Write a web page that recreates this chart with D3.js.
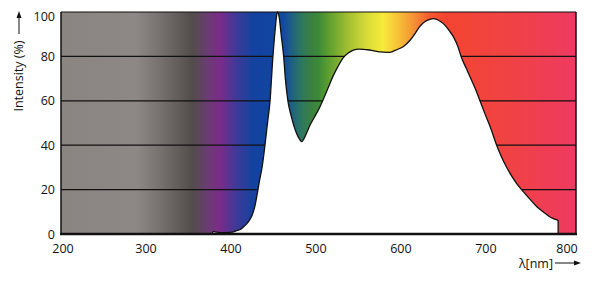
<!DOCTYPE html>
<html>
<head>
<meta charset="utf-8">
<script src="https://cdn.jsdelivr.net/npm/d3@7"></script>
<style>
body { margin: 0; background: #fff; }
text { font-family: "Open Sans", sans-serif; fill: #111; }
</style>
</head>
<body>
<div class="chart"></div>
<script>
// spectrum curve (LED), wavelength in nm and relative intensity in %
var wavelengths = [378, 379, 383, 387, 395, 402, 406, 411, 415, 419, 422, 425, 428, 431, 433, 437, 440, 443, 446, 449, 452, 454, 455, 457, 459, 462, 464, 467, 471, 477, 481, 483, 486, 489, 493, 498, 503, 509, 514, 520, 526, 532, 538, 544, 550, 556, 561, 567, 575, 585, 590, 595, 603, 611, 617, 622, 628, 634, 638, 642, 647, 652, 657, 662, 667, 671, 677, 683, 688, 693, 699, 705, 713, 718, 724, 730, 736, 744, 752, 760, 768, 775, 780, 785, 785];
var intensity = [0, 1.2, 0.8, 0.6, 0.6, 0.8, 1.4, 2.0, 3.3, 4.8, 6.4, 8.6, 12.3, 18.3, 22.8, 31, 40, 50, 60, 78, 92, 99, 100, 97, 90, 80, 70, 60, 53, 45.5, 42.5, 41.6, 43, 45.5, 49, 52.5, 56, 61, 65.5, 71, 75.5, 79.3, 81.5, 82.8, 83.3, 83.2, 83, 82.6, 82, 81.8, 82.2, 83, 84.5, 87.4, 90.5, 93.4, 95.6, 96.7, 97, 96.7, 95.6, 94, 91.5, 88.7, 84.5, 79.7, 74.5, 69.4, 65, 60, 54, 48.3, 39.6, 35, 30.3, 26.3, 22.8, 19.1, 15.6, 12.3, 9.8, 7.8, 6.8, 6, 0];

// background spectrum colour stops
var stopWavelengths = [200, 289, 316, 355, 372, 387, 407, 426, 449, 462, 481, 493, 503, 516, 540, 560, 579, 595, 611, 634, 649, 728, 806];
var stopColors = ["#8b8582", "#8d8885", "#77726f", "#524d4b", "#6a3c72", "#7b2b88", "#3d3a98", "#1442a0", "#1145a2", "#134aa0", "#2a7565", "#3a7f45", "#3c8a38", "#60a030", "#a8c232", "#d8dc38", "#f7ea3a", "#f8c438", "#f59d35", "#f55a30", "#f4452f", "#f04244", "#ee3a62"];

var yTicks = [0, 20, 40, 60, 80, 100];
var xTicks = [200, 300, 400, 500, 600, 700, 800];

(function() {
var W = 600, H = 282;
var pLeft = 61, pRight = 576, pTop = 12, pBottom = 234;

var x = d3.scaleLinear().domain([200, 806]).range([pLeft, pRight]);
var y = d3.scaleLinear().domain([0, 100]).range([pBottom, pTop]);

var svg = d3.select(".chart").append("svg").attr("width", W).attr("height", H);

var grad = svg.append("defs").append("linearGradient")
  .attr("id", "spec").attr("gradientUnits", "userSpaceOnUse")
  .attr("x1", x(200)).attr("x2", x(806)).attr("y1", 0).attr("y2", 0);
grad.selectAll("stop").data(stopWavelengths).enter().append("stop")
  .attr("offset", function(d) { return (d - 200) / 606; })
  .attr("stop-color", function(d, i) { return stopColors[i]; });

svg.append("rect")
  .attr("x", pLeft).attr("y", pTop)
  .attr("width", pRight - pLeft).attr("height", pBottom - pTop)
  .style("fill", "url(#spec)");

// grid lines
svg.selectAll("line.grid").data(yTicks.slice(1)).enter().append("line")
  .attr("class", "grid")
  .attr("x1", pLeft).attr("x2", pRight)
  .attr("y1", function(d) { return y(d); }).attr("y2", function(d) { return y(d); })
  .style("stroke", "#111").style("stroke-width", 1.2);

// frame left / right
svg.append("line").attr("x1", pLeft).attr("x2", pLeft).attr("y1", pTop).attr("y2", pBottom)
  .style("stroke", "#111").style("stroke-width", 1.5);
svg.append("line").attr("x1", pRight).attr("x2", pRight).attr("y1", pTop).attr("y2", pBottom)
  .style("stroke", "#111").style("stroke-width", 1.5);

var pts = wavelengths.map(function(d, i) { return [d, intensity[i]]; });

var area = d3.area()
  .x(function(d) { return x(d[0]); })
  .y0(pBottom).y1(function(d) { return y(d[1]); })
  .curve(d3.curveMonotoneX);
var line = d3.line()
  .x(function(d) { return x(d[0]); })
  .y(function(d) { return y(d[1]); })
  .curve(d3.curveMonotoneX);

svg.append("path").datum(pts).attr("d", area).style("fill", "#fff");
svg.append("path").datum(pts).attr("d", line)
  .style("fill", "none").style("stroke", "#111").style("stroke-width", 1.3);

// bottom axis line
svg.append("line").attr("x1", pLeft - 1).attr("x2", pRight + 1).attr("y1", pBottom).attr("y2", pBottom)
  .style("stroke", "#111").style("stroke-width", 2.5);

// tick labels
svg.selectAll("text.ylab").data(yTicks).enter().append("text")
  .attr("class", "ylab")
  .attr("x", 55)
  .attr("y", function(d) { return Math.max(y(d), 16); })
  .attr("dy", "0.36em")
  .attr("text-anchor", "end")
  .style("font-size", "12.5px")
  .text(function(d) { return d; });

svg.selectAll("text.xlab").data(xTicks).enter().append("text")
  .attr("class", "xlab")
  .attr("x", function(d) { return Math.min(Math.max(x(d), 63), 567); })
  .attr("y", 248)
  .attr("dy", "0.36em")
  .attr("text-anchor", "middle")
  .style("font-size", "12.5px")
  .text(function(d) { return d; });

// axis titles with arrows
svg.append("text")
  .attr("transform", "translate(23,76) rotate(-90)")
  .attr("text-anchor", "middle")
  .style("font-size", "12.5px")
  .text("Intensity (%)");
svg.append("line").attr("x1", 19).attr("x2", 19).attr("y1", 34).attr("y2", 16)
  .style("stroke", "#111").style("stroke-width", 1);
svg.append("path").attr("d", "M19,11 L16.5,18 L21.5,18 Z").style("fill", "#111");

svg.append("text")
  .attr("x", 553).attr("y", 263).attr("dy", "0.36em")
  .attr("text-anchor", "end")
  .style("font-size", "12.5px")
  .text("λ[nm]");
svg.append("line").attr("x1", 555).attr("x2", 575).attr("y1", 263).attr("y2", 263)
  .style("stroke", "#111").style("stroke-width", 1);
svg.append("path").attr("d", "M581,263 L574,260.5 L574,265.5 Z").style("fill", "#111");
})();
</script>
</body>
</html>
